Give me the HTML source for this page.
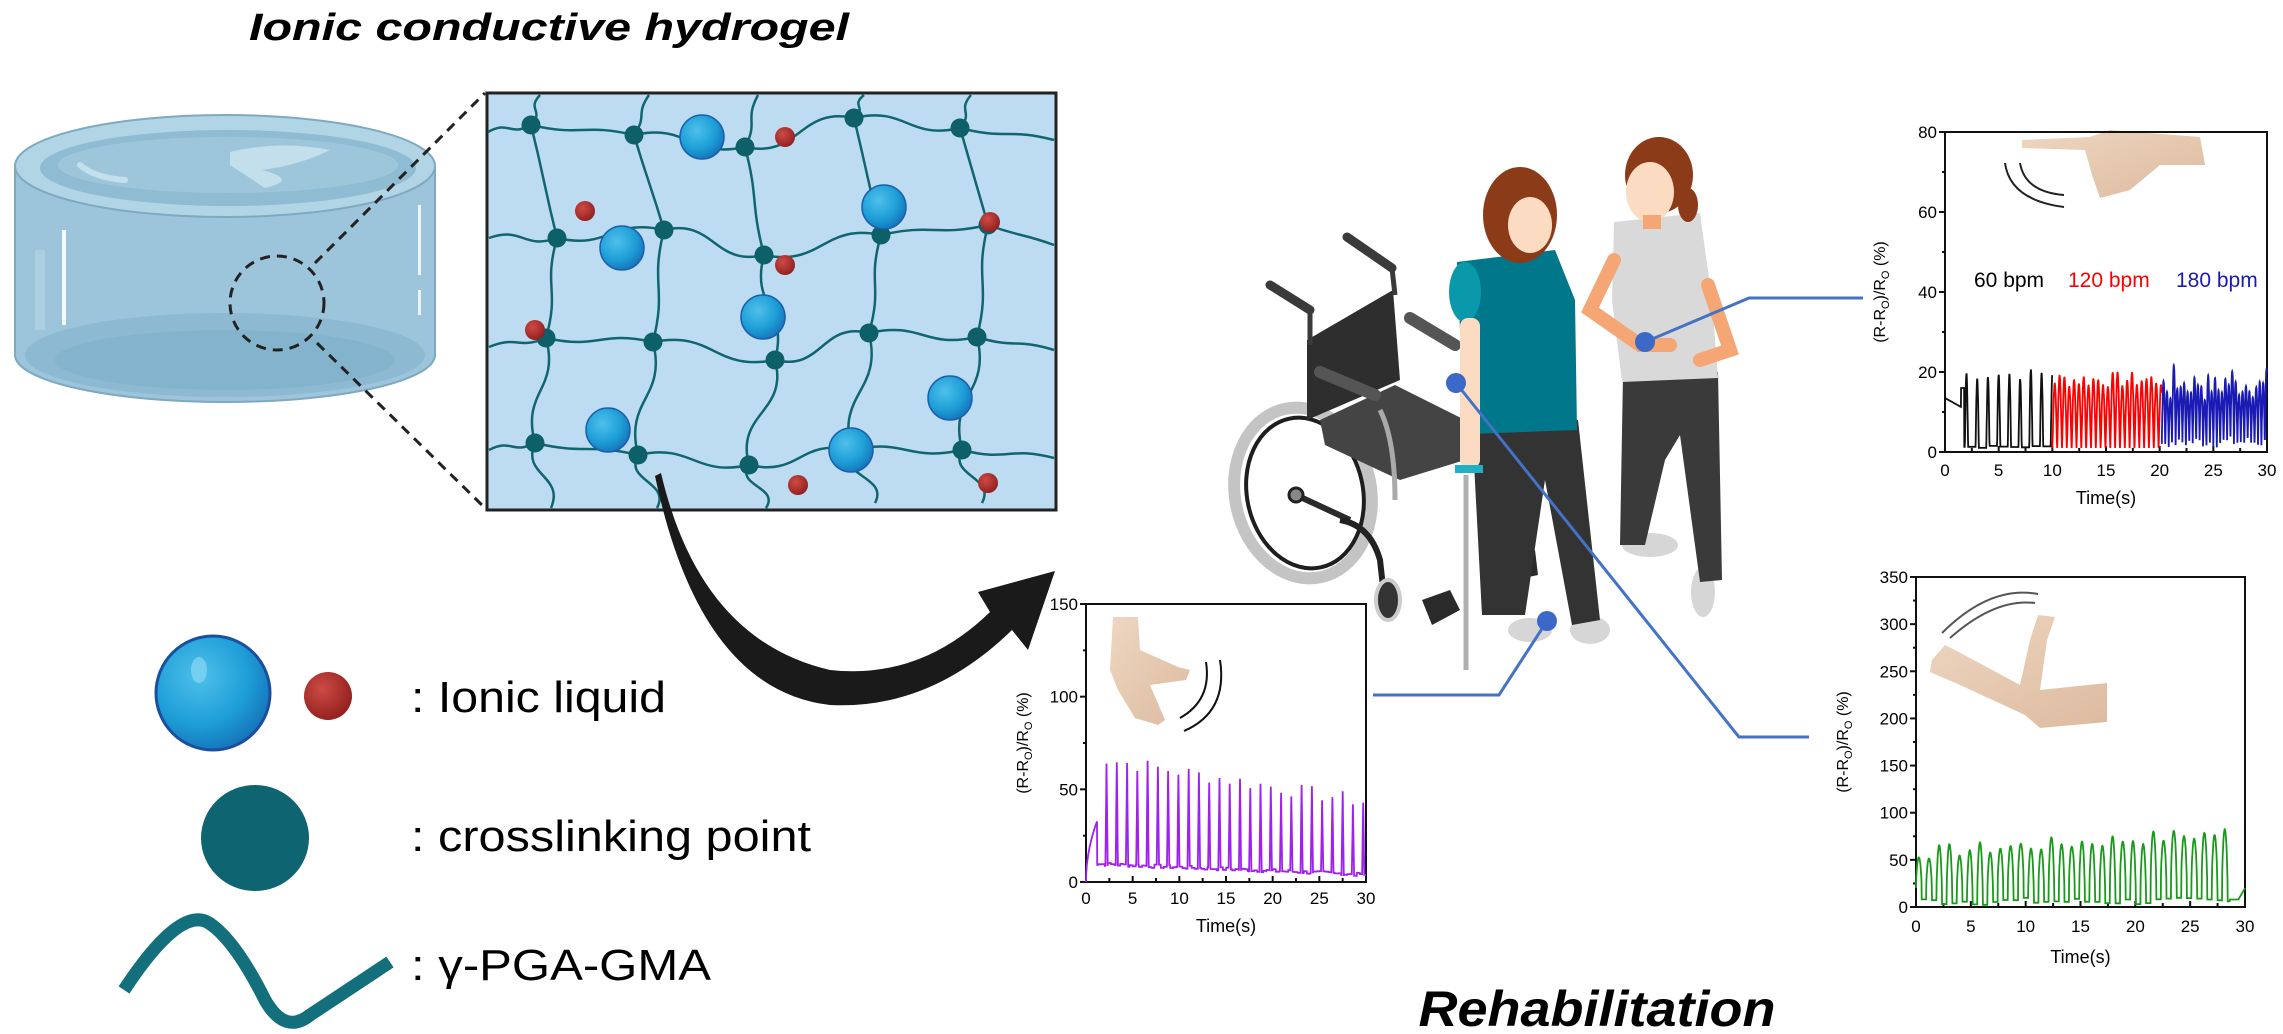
<!DOCTYPE html>
<html><head><meta charset="utf-8"><style>
html,body{margin:0;padding:0;background:#fff;}
svg{display:block;}
text{font-family:"Liberation Sans",Arial,sans-serif;}
</style></head><body>
<svg id="s" xmlns="http://www.w3.org/2000/svg" width="2283" height="1034" viewBox="0 0 2283 1034">
<defs>
<radialGradient id="bs" cx="0.38" cy="0.35" r="0.7"><stop offset="0" stop-color="#4fc0ea"/><stop offset="0.6" stop-color="#1e9fd8"/><stop offset="1" stop-color="#1572b8"/></radialGradient>
<radialGradient id="rs" cx="0.38" cy="0.35" r="0.7"><stop offset="0" stop-color="#cf4a45"/><stop offset="1" stop-color="#8f1f1d"/></radialGradient>
<linearGradient id="skin" x1="0" y1="0" x2="1" y2="1"><stop offset="0" stop-color="#ecd2bb"/><stop offset="1" stop-color="#d9b394"/></linearGradient>
</defs>

<!-- Titles -->
<text x="549" y="40" font-size="38" font-weight="bold" font-style="italic" text-anchor="middle" textLength="600" lengthAdjust="spacingAndGlyphs">Ionic conductive hydrogel</text>
<text x="1597" y="1026" font-size="50" font-weight="bold" font-style="italic" text-anchor="middle" textLength="357" lengthAdjust="spacingAndGlyphs">Rehabilitation</text>

<!-- Cylinder -->
<g>
<path d="M15 168 L15 355 A210 47 0 0 0 435 355 L435 168 Z" fill="#9cc4da" stroke="#7ea9c0" stroke-width="2"/>
<ellipse cx="225" cy="355" rx="200" ry="42" fill="#8ab8cf" opacity="0.8"/>
<ellipse cx="225" cy="360" rx="170" ry="30" fill="#7fb0c9" opacity="0.6"/>
<ellipse cx="225" cy="166" rx="210" ry="51" fill="#b2d5e6" stroke="#7ea9c0" stroke-width="2"/>
<ellipse cx="228" cy="168" rx="188" ry="38" fill="#8fbcd3"/>
<ellipse cx="228" cy="165" rx="170" ry="28" fill="#9ec6da"/>
<path d="M230 152 Q280 140 330 150 Q300 165 262 170 Q300 180 265 188 Q250 178 230 165 Z" fill="#c3dfec"/>
<path d="M80 165 Q95 178 125 180" stroke="#c3dfec" stroke-width="6" fill="none" stroke-linecap="round"/>
<rect x="62" y="230" width="4" height="95" fill="#fff" opacity="0.9"/>
<rect x="418" y="205" width="3" height="70" fill="#fff" opacity="0.8"/>
<rect x="418" y="290" width="3" height="25" fill="#fff" opacity="0.8"/>
<path d="M40 250 L40 330" stroke="#b8d8e8" stroke-width="10" opacity="0.6"/>
</g>
<!-- dashed zoom -->
<circle cx="277" cy="303" r="47" fill="none" stroke="#222" stroke-width="3" stroke-dasharray="10 7"/>
<line x1="315" y1="263" x2="485" y2="93" stroke="#222" stroke-width="3" stroke-dasharray="10 7"/>
<line x1="317" y1="343" x2="487" y2="510" stroke="#222" stroke-width="3" stroke-dasharray="10 7"/>

<!-- Network box -->
<rect x="487" y="93" width="569" height="417" fill="#bddcf2" stroke="#222" stroke-width="3"/>
<g id="net"></g>

<!-- Curved arrow -->
<path d="M661 473 Q700 640 830 670 Q920 680 990 612 L978 592 L1055 571 L1028 650 L1012 630 Q930 710 830 705 Q700 690 655 476 Z" fill="#1a1a1a"/>

<!-- Legend -->
<circle cx="213" cy="693" r="57" fill="url(#bs)" stroke="#1a4fa0" stroke-width="3"/>
<ellipse cx="199" cy="670" rx="8" ry="13" fill="#7fd3f2" opacity="0.8"/>
<circle cx="328" cy="696" r="24" fill="url(#rs)"/>
<text x="411" y="712" font-size="44" textLength="255" lengthAdjust="spacingAndGlyphs">: Ionic liquid</text>
<ellipse cx="255" cy="838" rx="54" ry="53" fill="#0e6470"/>
<text x="411" y="851" font-size="44" textLength="400" lengthAdjust="spacingAndGlyphs">: crosslinking point</text>
<path d="M124 990 Q180 905 209 923 Q235 940 265 1000 Q285 1035 310 1015 L390 962" stroke="#146f7c" stroke-width="13" fill="none" stroke-linejoin="round"/>
<text x="411" y="980" font-size="44" textLength="300" lengthAdjust="spacingAndGlyphs">: γ-PGA-GMA</text>

<!-- Wheelchair -->
<g>
<ellipse cx="1303" cy="493" rx="68" ry="86" transform="rotate(-12 1303 493)" fill="none" stroke="#c4c4c4" stroke-width="12"/>
<ellipse cx="1305" cy="493" rx="58" ry="76" transform="rotate(-12 1305 493)" fill="none" stroke="#1e1e1e" stroke-width="4"/>
<line x1="1296" y1="495" x2="1350" y2="520" stroke="#2a2a2a" stroke-width="6"/>
<circle cx="1296" cy="495" r="7" fill="#888" stroke="#222" stroke-width="3"/>
<polygon points="1307,340 1393,290 1400,380 1307,420" fill="#2e2e2e"/>
<line x1="1270" y1="285" x2="1310" y2="310" stroke="#3a3a3a" stroke-width="9" stroke-linecap="round"/>
<line x1="1347" y1="237" x2="1392" y2="268" stroke="#3a3a3a" stroke-width="9" stroke-linecap="round"/>
<line x1="1310" y1="310" x2="1310" y2="345" stroke="#3a3a3a" stroke-width="5"/>
<line x1="1392" y1="268" x2="1395" y2="295" stroke="#3a3a3a" stroke-width="5"/>
<polygon points="1320,420 1395,385 1465,420 1465,460 1400,480 1325,445" fill="#444"/>
<line x1="1320" y1="372" x2="1375" y2="395" stroke="#555" stroke-width="12" stroke-linecap="round"/>
<line x1="1410" y1="318" x2="1455" y2="345" stroke="#555" stroke-width="12" stroke-linecap="round"/>
<path d="M1380 410 Q1395 440 1395 500" stroke="#aaa" stroke-width="5" fill="none"/>
<path d="M1340 520 Q1370 525 1380 560 L1385 605" stroke="#222" stroke-width="6" fill="none"/>
<ellipse cx="1388" cy="600" rx="12" ry="20" fill="#333" stroke="#ccc" stroke-width="4"/>
<polygon points="1422,600 1450,590 1460,610 1432,625" fill="#2a2a2a"/>
<polygon points="1505,555 1535,550 1538,575 1505,582" fill="#2a2a2a"/>
<line x1="1466" y1="475" x2="1466" y2="670" stroke="#b0b0b0" stroke-width="5"/>
</g>

<!-- Helper -->
<g>
<ellipse cx="1703" cy="592" rx="12" ry="25" fill="#d6d6d6"/>
<ellipse cx="1650" cy="545" rx="28" ry="12" fill="#d6d6d6"/>
<polygon points="1623,375 1718,372 1722,580 1700,582 1680,435 1665,460 1645,545 1620,545" fill="#3a3a3a"/>
<polygon points="1614,222 1700,213 1712,300 1718,378 1622,382 1612,300" fill="#d9d9d9"/>
<path d="M1708 285 L1730 350 L1700 360" stroke="#f4a774" stroke-width="14" fill="none" stroke-linecap="round"/>
<path d="M1614 260 L1590 310 L1640 345 L1670 345" stroke="#f4a774" stroke-width="14" fill="none" stroke-linecap="round"/>
<ellipse cx="1659" cy="175" rx="34" ry="38" fill="#8b3b17"/>
<ellipse cx="1688" cy="205" rx="10" ry="17" fill="#8b3b17"/>
<ellipse cx="1650" cy="192" rx="24" ry="30" fill="#fbdcc3"/>
<rect x="1643" y="215" width="18" height="14" fill="#f4a774"/>
</g>
<!-- Patient -->
<g>
<ellipse cx="1530" cy="630" rx="22" ry="12" fill="#d6d6d6"/>
<ellipse cx="1590" cy="630" rx="20" ry="14" fill="#d6d6d6"/>
<polygon points="1472,425 1578,420 1600,620 1572,625 1545,480 1525,615 1482,615" fill="#333"/>
<polygon points="1457,262 1555,250 1575,300 1577,430 1470,434 1460,330" fill="#00778a"/>
<ellipse cx="1465" cy="292" rx="16" ry="30" fill="#0999aa"/>
<rect x="1460" y="318" width="20" height="150" rx="8" fill="#fbdcc3"/>
<rect x="1455" y="465" width="28" height="8" fill="#1fb0c4"/>
<ellipse cx="1520" cy="215" rx="37" ry="48" fill="#8b3b17"/>
<ellipse cx="1530" cy="225" rx="22" ry="28" fill="#fbdcc3"/>
</g>

<!-- connectors -->
<g stroke="#4472c4" stroke-width="3" fill="none">
<polyline points="1645,342 1749,298 1863,298"/>
<polyline points="1456,383 1739,737 1809,737"/>
<polyline points="1547,621 1499,695 1373,695"/>
</g>
<g fill="#3c68c8">
<circle cx="1645" cy="342" r="10"/><circle cx="1456" cy="383" r="10"/><circle cx="1547" cy="621" r="10"/>
</g>

<!-- plot insets -->
<path d="M2022 140 L2090 137 L2110 130 L2200 137 L2205 165 L2160 165 L2130 190 L2100 198 L2092 175 L2085 150 L2022 148 Z" fill="url(#skin)" opacity="0.9"/>
<path d="M2005 163 Q2010 200 2064 207" stroke="#222" stroke-width="2" fill="none"/>
<path d="M2020 163 Q2025 192 2064 195" stroke="#222" stroke-width="2" fill="none"/>
<path d="M1113 617 L1138 617 L1140 650 L1178 667 L1190 670 L1186 680 L1150 685 L1165 720 L1158 725 L1135 718 L1118 690 L1110 670 Z" fill="url(#skin)" opacity="0.9"/>
<path d="M1206 662 Q1212 700 1180 718" stroke="#111" stroke-width="2" fill="none"/>
<path d="M1220 660 Q1228 712 1184 731" stroke="#111" stroke-width="2" fill="none"/>
<path d="M1932 660 L1945 645 L1955 650 L2020 685 L2030 640 L2038 615 L2055 617 L2047 640 L2040 690 L2107 683 L2107 722 L2040 728 L2025 715 L1960 685 L1930 672 Z" fill="url(#skin)" opacity="0.9"/>
<path d="M1942 633 Q1990 585 2038 594" stroke="#555" stroke-width="2" fill="none"/>
<path d="M1950 638 Q1995 598 2035 603" stroke="#555" stroke-width="2" fill="none"/>

<text x="1974" y="287" font-size="21">60 bpm</text>
<text x="2068" y="287" font-size="21" fill="#f00">120 bpm</text>
<text x="2176" y="287" font-size="21" fill="#1a1ab4">180 bpm</text>
<g id="plots"></g>
</svg>
<script>
const NS='http://www.w3.org/2000/svg';
function el(t,a,p,txt){const e=document.createElementNS(NS,t);for(const k in a)e.setAttribute(k,a[k]);if(txt!==undefined)e.textContent=txt;(p||document.getElementById('s')).appendChild(e);return e;}
// network
const net=document.getElementById('net');
const rows=[[[488,132],[531,125],[634,135],[745,147],[854,118],[960,128],[1054,140]],
[[489,238],[557,238],[664,230],[764,255],[881,235],[988,225],[1054,245]],
[[489,347],[546,338],[653,342],[775,360],[869,333],[977,337],[1054,350]],
[[489,450],[535,443],[638,455],[749,465],[851,450],[962,450],[1054,458]]];
const cols=[[[540,95],[531,125],[557,238],[546,338],[535,443],[551,508]],
[[649,95],[634,135],[664,230],[653,342],[638,455],[657,508]],
[[758,95],[745,147],[764,255],[775,360],[749,465],[766,508]],
[[864,95],[854,118],[881,235],[869,333],[851,450],[875,503]],
[[971,95],[960,128],[988,225],[977,337],[962,450],[982,503]]];
function hp(pts){let d='M'+pts[0];for(let i=1;i<pts.length;i++){const P=pts[i-1],Q=pts[i],dx=(Q[0]-P[0])/2;d+=` C${P[0]+dx},${P[1]+(i%2?-12:12)} ${Q[0]-dx},${Q[1]+(i%2?12:-12)} ${Q[0]},${Q[1]}`;}return d;}
function vp(pts){let d='M'+pts[0];for(let i=1;i<pts.length;i++){const P=pts[i-1],Q=pts[i],dy=(Q[1]-P[1])/2;d+=` C${P[0]+(i%2?-14:14)},${P[1]+dy} ${Q[0]+(i%2?14:-14)},${Q[1]-dy} ${Q[0]},${Q[1]}`;}return d;}
rows.forEach(r=>el('path',{d:hp(r),stroke:'#11656f','stroke-width':2.5,fill:'none'},net));
cols.forEach(c=>el('path',{d:vp(c),stroke:'#11656f','stroke-width':2.5,fill:'none'},net));
rows.forEach(r=>r.slice(1,-1).forEach(p=>el('circle',{cx:p[0],cy:p[1],r:9.5,fill:'#0d5f68'},net)));
[[702,137],[884,207],[622,248],[763,317],[950,398],[608,430],[851,450]].forEach(p=>{el('circle',{cx:p[0],cy:p[1],r:22,fill:'url(#bs)',stroke:'#1a5fae','stroke-width':1.5},net);});
[[785,137],[585,211],[990,222],[785,265],[535,330],[798,485],[988,483]].forEach(p=>el('circle',{cx:p[0],cy:p[1],r:10,fill:'url(#rs)'},net));
// plots
const G=document.getElementById('plots');
let seed=7;function rnd(){seed=(seed*9301+49297)%233280;return seed/233280;}
function plot(o){
 const X=t=>o.x0+t/30*(o.x1-o.x0), Y=v=>o.y1-v/o.ymax*(o.y1-o.y0);
 el('rect',{x:o.x0,y:o.y0,width:o.x1-o.x0,height:o.y1-o.y0,fill:'none',stroke:'#111','stroke-width':2},G);
 for(let v=0;v<=o.ymax+1e-6;v+=o.ys/2){const y=Y(v),maj=Math.abs(v/o.ys-Math.round(v/o.ys))<1e-6;
  el('line',{x1:o.x0,y1:y,x2:o.x0-(maj?6:3),y2:y,stroke:'#111','stroke-width':2},G);
  if(maj)el('text',{x:o.x0-8,y:y+6,'font-size':17,'text-anchor':'end'},G,String(Math.round(v)));}
 for(let t=0;t<=30;t+=2.5){const x=X(t),maj=t%5==0;
  el('line',{x1:x,y1:o.y1,x2:x,y2:o.y1-(maj?6:4),stroke:'#111','stroke-width':2},G);
  if(maj)el('text',{x:x,y:o.y1+o.tl,'font-size':17,'text-anchor':'middle'},G,String(t));}
 el('text',{x:(o.x0+o.x1)/2,y:o.y1+o.tt,'font-size':18,'text-anchor':'middle'},G,'Time(s)');
 const yl=el('text',{x:0,y:0,'font-size':16,'text-anchor':'middle',transform:`translate(${o.x0-o.yl},${(o.y0+o.y1)/2}) rotate(-90)`},G);
 yl.innerHTML='(R-R<tspan font-size="11" dy="4">O</tspan><tspan dy="-4">)/R</tspan><tspan font-size="11" dy="4">O</tspan><tspan dy="-4"> (%)</tspan>';
 o.series.forEach(s=>{let pts=[];for(let t=s.a;t<=s.b;t+=s.dt){pts.push(X(t).toFixed(1)+','+Y(Math.max(0,Math.min(o.ymax,s.f(t)))).toFixed(1));}
  el('polyline',{points:pts.join(' '),fill:'none',stroke:s.c,'stroke-width':1.8},G);});
}
function pk(t,per,ph){let u=((t-ph)/per)%1;if(u<0)u+=1;return u;}
const amps=[];for(let i=0;i<80;i++)amps.push(rnd());
plot({x0:1945,x1:2267,y0:132,y1:452,ymax:80,ys:20,tl:24,tt:52,yl:60,series:[
 {a:0,b:10,dt:0.02,c:'#111',f:t=>{if(t<1.5)return 13.5-t*1.5;if(t<1.8)return 16;const u=pk(t,1.0,1.85);const k=Math.floor((t-1.85)/1.0);const h=17+3*amps[k+1];return u<0.3?1+h*Math.sin(Math.PI*u/0.3):1+0.6*amps[(k+5)%80];}},
 {a:10,b:20.2,dt:0.01,c:'#f00',f:t=>{const u=pk(t,0.45,10);const k=Math.floor((t-10)/0.45);const h=15+4*amps[k+10];return 1+h*Math.pow(Math.sin(Math.PI*u),1.2);}},
 {a:20.2,b:30,dt:0.01,c:'#1a1ab4',f:t=>{const u=pk(t,0.32,20.2);const k=Math.floor((t-20.2)/0.32);const h=11+7*amps[(k+30)%80];return 1+3*amps[(k+40)%80]+h*Math.sin(Math.PI*u);}}]});
plot({x0:1086,x1:1366,y0:604,y1:882,ymax:150,ys:50,tl:22,tt:50,yl:58,series:[
 {a:0,b:30,dt:0.02,c:'#a020f0',f:t=>{if(t<1.2)return 33*Math.sqrt(t/1.2);const base=9-t*0.2+amps[Math.floor(t*3)%80]*2;const k=Math.round((t-2.2)/1.1);const tc=2.2+k*1.1;const h=(62-k*0.9+8*amps[(k+3)%80])-base;const d=t-tc;return base+(Math.abs(d)<0.12&&k>=0?h*(1-Math.abs(d)/0.12):0);}}]});
plot({x0:1916,x1:2245,y0:577,y1:907,ymax:350,ys:50,tl:25,tt:56,yl:68,series:[
 {a:0,b:30,dt:0.02,c:'#1a9a1a',f:t=>{if(t>28.6)return 8+ (t>29.4?(t-29.4)*20:0);const k=Math.floor(t/0.93);const u=pk(t,0.93,0);const h=45+15*amps[(k+20)%80]+k*0.7;const lo=5+20*amps[(k+50)%80];return u<0.55?lo+(h+5-lo)*Math.pow(Math.sin(Math.PI*u/0.55),0.6):lo*0.4;}}]});
</script>
</body></html>
